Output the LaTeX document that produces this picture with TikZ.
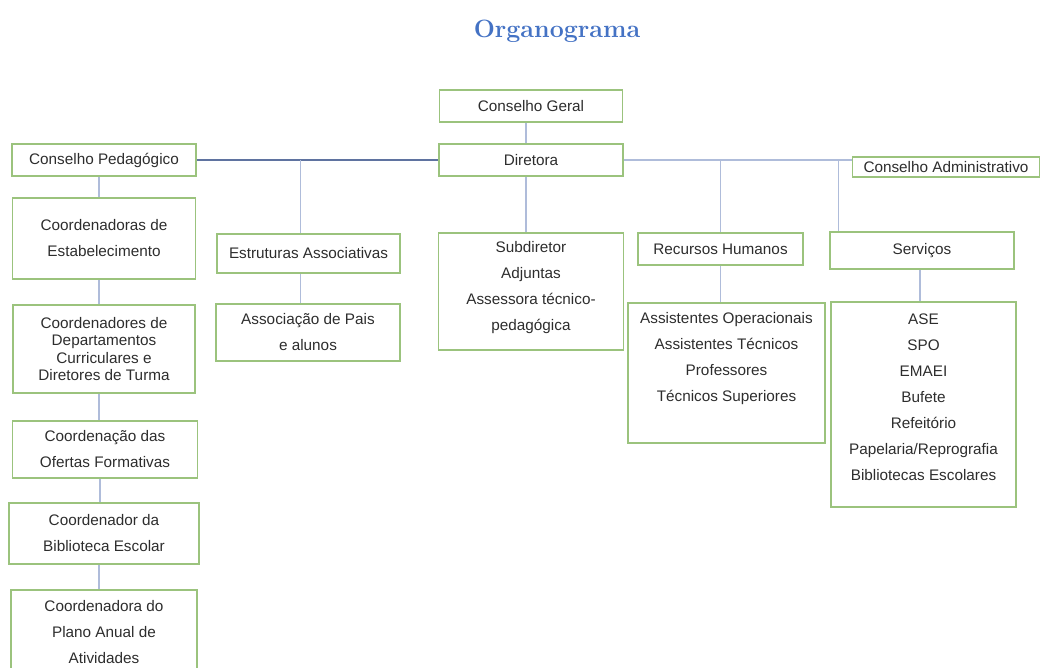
\documentclass[tikz,border=0pt]{standalone}
\usepackage{fontspec}
\newfontfamily\arial{Liberation Sans}
\usetikzlibrary{positioning}

\definecolor{verde}{RGB}{155,195,125}
\definecolor{linha}{RGB}{175,188,218}
\definecolor{linhaesc}{RGB}{95,115,160}
\definecolor{azultit}{RGB}{68,114,196}
\definecolor{cinza}{RGB}{45,45,45}

\begin{document}
\begin{tikzpicture}[x=1pt,y=-1pt,
  caixa/.style={draw=verde,line width=1.5pt,inner sep=0pt,align=center,text=cinza,
    font=\arial\fontsize{15.3}{26}\selectfont},
  rotulo/.style={inner sep=0pt,align=center,text=cinza,font=\arial\fontsize{15.3}{26}\selectfont},
  liga/.style={draw=linha,line width=1.3pt}]

% margens
\useasboundingbox (0,0) rectangle (1043,668);
\clip (0,0) rectangle (1043,668);

% título
\node[anchor=base,text=azultit,font=\fontsize{25}{30}\selectfont\bfseries] (titulo) at (557,38) {Organograma};

% topo
\node[caixa,minimum width=183pt,minimum height=32pt] (geral) at (531,106) {Conselho Geral};
\node[caixa,minimum width=184pt,minimum height=32pt] (diretora) at (531,160) {Diretora};
\node[caixa,minimum width=184pt,minimum height=32pt] (pedag) at (104,160) {Conselho Pedagógico};
\node[caixa,minimum width=187pt,minimum height=20pt] (admin) at (946,167) {Conselho Administrativo};

% coluna da esquerda
\node[caixa,minimum width=183pt,minimum height=81pt] (estab) at (104,238.5) {Coordenadoras de\\Estabelecimento};
\node[caixa,minimum width=182pt,minimum height=88pt,font=\arial\fontsize{15.3}{17.5}\selectfont] (depart) at (104,349) {Coordenadores de\\Departamentos\\Curriculares e\\Diretores de Turma};
\node[caixa,minimum width=185pt,minimum height=57pt] (ofertas) at (105,449.5) {Coordenação das\\Ofertas Formativas};
\node[caixa,minimum width=190pt,minimum height=61pt] (biblio) at (104,533.5) {Coordenador da\\Biblioteca Escolar};
\node[caixa,minimum width=186pt,minimum height=84pt] (plano) at (104,632) {Coordenadora do\\Plano Anual de\\Atividades};

% centro
\node[caixa,minimum width=183pt,minimum height=39pt] (estrut) at (308.5,253.5) {Estruturas Associativas};
\node[caixa,minimum width=184pt,minimum height=57pt] (pais) at (308,332.5) {Associação de Pais\\e alunos};
\node[caixa,minimum width=185pt,minimum height=117pt] (subdir) at (531,291.5) {};
\node[rotulo,below=9pt of subdir.north] (subdir-t) {Subdiretor\\Adjuntas\\Assessora técnico-\\pedagógica};

% direita
\node[caixa,minimum width=165pt,minimum height=32pt] (rh) at (720.5,249) {Recursos Humanos};
\node[caixa,minimum width=184pt,minimum height=37pt] (serv) at (922,250.5) {Serviços};
\node[caixa,minimum width=197pt,minimum height=140pt] (assist) at (726.5,373) {};
\node[rotulo,below=10pt of assist.north] (assist-t) {Assistentes Operacionais\\Assistentes Técnicos\\Professores\\Técnicos Superiores};
\node[caixa,minimum width=185pt,minimum height=205pt] (lista) at (923.5,404.5) {};
\node[rotulo,below=12pt of lista.north] (lista-t) {ASE\\SPO\\EMAEI\\Bufete\\Refeitório\\Papelaria/Reprografia\\Bibliotecas Escolares};

% linha principal
\draw[liga,draw=linhaesc] (pedag) -- (diretora);
\draw[liga] (diretora.east) -- (diretora.east -| admin.west);
\draw[liga] ([xshift=-8pt]estrut.north) -- ([xshift=-8pt]estrut.north |- diretora.west);
\draw[liga] (rh.north) -- (rh.north |- diretora.east);
\draw[liga] ([xshift=9pt]serv.north west) -- ([xshift=9pt]serv.north west |- diretora.east);

% ligações verticais
\foreach \a/\b/\d in {geral/diretora/-5, diretora/subdir/-5, pedag/estab/-5, estab/depart/-5,
    depart/ofertas/-5, ofertas/biblio/-5, biblio/plano/-5, estrut/pais/-8, rh/assist/0, serv/lista/-2}
  \draw[liga] ([xshift=\d pt]\a.south) -- ([xshift=\d pt]\a.south |- \b.north);

\end{tikzpicture}
\end{document}
